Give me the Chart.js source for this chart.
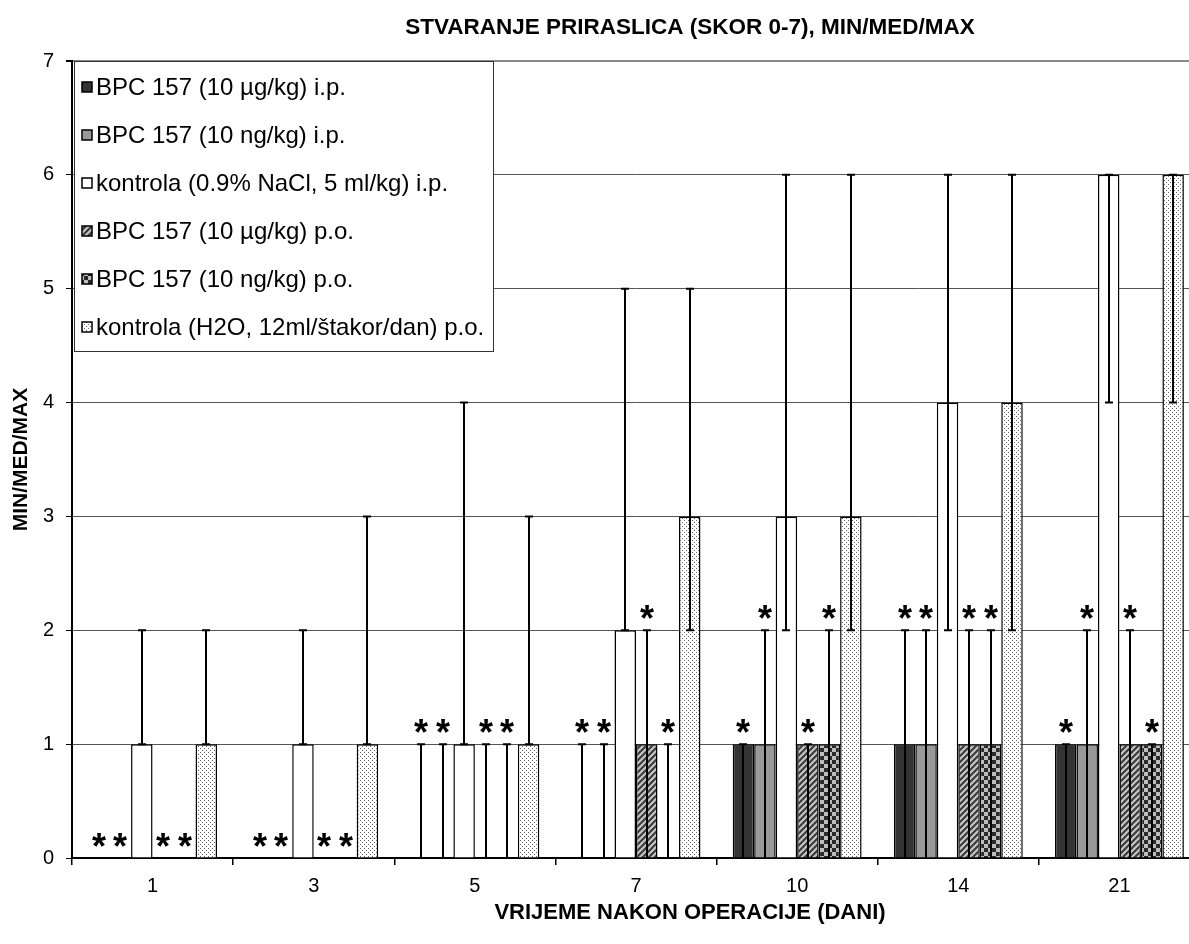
<!DOCTYPE html>
<html>
<head>
<meta charset="utf-8">
<title>Stvaranje priraslica</title>
<script src="https://cdn.jsdelivr.net/npm/chart.js@4"></script>
<style>
  html, body { margin: 0; padding: 0; background: #fff; overflow: hidden; }
  #wrap { width: 1203px; height: 944px; }
</style>
</head>
<body>
<div id="wrap"><canvas id="chart" width="1203" height="944"></canvas></div>
<script>
// dani nakon operacije
const days = ["1", "3", "5", "7", "10", "14", "21"];

const seriesLabels = [
  "BPC 157 (10 µg/kg) i.p.",
  "BPC 157 (10 ng/kg) i.p.",
  "kontrola (0.9% NaCl, 5 ml/kg) i.p.",
  "BPC 157 (10 µg/kg) p.o.",
  "BPC 157 (10 ng/kg) p.o.",
  "kontrola (H2O, 12ml/štakor/dan) p.o.",
];

// medijan / min / max po skupini
const medUgIp = [0, 0, 0, 0, 1, 1, 1];
const minUgIp = [0, 0, 0, 0, 0, 0, 0];
const maxUgIp = [0, 0, 1, 1, 1, 2, 1];

const medNgIp = [0, 0, 0, 0, 1, 1, 1];
const minNgIp = [0, 0, 0, 0, 0, 0, 0];
const maxNgIp = [0, 0, 1, 1, 2, 2, 2];

const medCtrlIp = [1, 1, 1, 2, 3, 4, 6];
const minCtrlIp = [1, 1, 1, 2, 2, 2, 4];
const maxCtrlIp = [2, 2, 4, 5, 6, 6, 6];

const medUgPo = [0, 0, 0, 1, 1, 1, 1];
const minUgPo = [0, 0, 0, 0, 0, 0, 0];
const maxUgPo = [0, 0, 1, 2, 1, 2, 2];

const medNgPo = [0, 0, 0, 0, 1, 1, 1];
const minNgPo = [0, 0, 0, 0, 0, 0, 0];
const maxNgPo = [0, 0, 1, 1, 2, 2, 1];

const medCtrlPo = [1, 1, 1, 3, 3, 4, 6];
const minCtrlPo = [1, 1, 1, 2, 2, 2, 4];
const maxCtrlPo = [2, 3, 3, 5, 6, 6, 6];

// zvjezdice (p < 0.05 prema kontroli)
const starUgIp = [1, 1, 1, 1, 1, 1, 1];
const starNgIp = [1, 1, 1, 1, 1, 1, 1];
const starCtrlIp = [0, 0, 0, 0, 0, 0, 0];
const starUgPo = [1, 1, 1, 1, 1, 1, 1];
const starNgPo = [1, 1, 1, 1, 1, 1, 1];
const starCtrlPo = [0, 0, 0, 0, 0, 0, 0];

const yTicks = [0, 1, 2, 3, 4, 5, 6, 7];

const FONT = '"Liberation Sans", Arial, sans-serif';
Chart.defaults.font.family = FONT;
Chart.defaults.color = "#000";

function makePattern(kind) {
  const c = document.createElement("canvas");
  const g = c.getContext("2d");
  if (kind == "hatch") {
    c.width = 6; c.height = 6;
    g.fillStyle = "#c8c8c8";
    g.fillRect(0, 0, 6, 6);
    g.strokeStyle = "#3c3c3c";
    g.lineWidth = 2.2;
    g.beginPath();
    g.moveTo(-1, 7); g.lineTo(7, -1);
    g.moveTo(-4, 4); g.lineTo(4, -4);
    g.moveTo(2, 10); g.lineTo(10, 2);
    g.stroke();
  } else if (kind == "checker") {
    c.width = 8; c.height = 8;
    g.fillStyle = "#bdbdbd";
    g.fillRect(0, 0, 8, 8);
    g.fillStyle = "#2a2a2a";
    g.fillRect(0, 0, 4, 4);
    g.fillRect(4, 4, 4, 4);
  } else {
    c.width = 4; c.height = 4;
    g.fillStyle = "#fff";
    g.fillRect(0, 0, 4, 4);
    g.fillStyle = "#666";
    g.fillRect(0, 0, 1, 1);
    g.fillRect(2, 2, 1, 1);
  }
  return g.createPattern(c, "repeat");
}

const fills = [
  "#333333",
  "#999999",
  "#ffffff",
  makePattern("hatch"),
  makePattern("checker"),
  makePattern("stipple"),
];
const medians = [medUgIp, medNgIp, medCtrlIp, medUgPo, medNgPo, medCtrlPo];
const mins = [minUgIp, minNgIp, minCtrlIp, minUgPo, minNgPo, minCtrlPo];
const maxs = [maxUgIp, maxNgIp, maxCtrlIp, maxUgPo, maxNgPo, maxCtrlPo];
const stars = [starUgIp, starNgIp, starCtrlIp, starUgPo, starNgPo, starCtrlPo];

const datasets = seriesLabels.map((lbl, i) => ({
  label: lbl,
  data: medians[i],
  backgroundColor: fills[i],
  borderColor: "#000",
  borderWidth: 1.5,
  categoryPercentage: 0.8,
  barPercentage: 1.0,
}));

// min-max linije, zvjezdice, legenda i naslovi
const extras = {
  id: "extras",
  afterDatasetsDraw(chart) {
    const ctx = chart.ctx;
    const y = chart.scales.y;
    ctx.save();
    ctx.strokeStyle = "#000";
    ctx.lineWidth = 2;
    chart.data.datasets.forEach((ds, i) => {
      const meta = chart.getDatasetMeta(i);
      meta.data.forEach((bar, j) => {
        const x = Math.round(bar.x);
        const lo = mins[i][j], hi = maxs[i][j];
        if (hi > lo) {
          const yLo = y.getPixelForValue(lo);
          const yHi = y.getPixelForValue(hi);
          ctx.beginPath();
          ctx.moveTo(x, yLo); ctx.lineTo(x, yHi);
          ctx.moveTo(x - 4, yHi); ctx.lineTo(x + 4, yHi);
          if (lo > 0) { ctx.moveTo(x - 4, yLo); ctx.lineTo(x + 4, yLo); }
          ctx.stroke();
        }
        if (stars[i][j]) {
          ctx.fillStyle = "#000";
          ctx.font = "bold 36px " + FONT;
          ctx.textAlign = "center";
          ctx.textBaseline = "alphabetic";
          ctx.fillText("*", x, y.getPixelForValue(hi) + 1);
        }
      });
    });
    ctx.restore();
  },
  afterDraw(chart) {
    const ctx = chart.ctx;
    ctx.save();
    // legenda
    ctx.fillStyle = "#fff";
    ctx.fillRect(74, 61, 419, 290);
    ctx.strokeStyle = "#333";
    ctx.lineWidth = 1;
    ctx.strokeRect(74.5, 61.5, 419, 290);
    ctx.font = "24px " + FONT;
    ctx.textAlign = "left";
    ctx.textBaseline = "middle";
    seriesLabels.forEach((lbl, i) => {
      const ry = 87 + i * 48;
      ctx.fillStyle = fills[i];
      ctx.fillRect(82, ry - 5, 10, 10);
      ctx.strokeStyle = "#000";
      ctx.lineWidth = 1.5;
      ctx.strokeRect(82, ry - 5, 10, 10);
      ctx.fillStyle = "#000";
      ctx.fillText(lbl, 96, ry + 1);
    });
    // naslovi
    ctx.font = "bold 22.5px " + FONT;
    ctx.textAlign = "center";
    ctx.fillText("STVARANJE PRIRASLICA (SKOR 0-7), MIN/MED/MAX", 690, 28);
    ctx.font = "bold 22px " + FONT;
    ctx.fillText("VRIJEME NAKON OPERACIJE (DANI)", 690, 913);
    ctx.restore();
  },
};

new Chart(document.getElementById("chart"), {
  type: "bar",
  data: { labels: days, datasets: datasets },
  options: {
    responsive: false,
    animation: false,
    devicePixelRatio: 1,
    layout: { padding: { top: 61, right: 3, left: 0, bottom: 0 } },
    plugins: {
      legend: { display: false },
      tooltip: { enabled: false },
    },
    scales: {
      x: {
        offset: true,
        grid: { offset: true, drawOnChartArea: false, tickLength: 7, color: "#000", lineWidth: 1.5 },
        border: { color: "#000", width: 2 },
        ticks: { color: "#000", font: { size: 20 }, padding: 9, maxRotation: 0 },
        afterFit: (s) => { s.height = 86; },
      },
      y: {
        min: yTicks[0],
        max: yTicks[yTicks.length - 1],
        afterBuildTicks: (s) => { s.ticks = yTicks.map((v) => ({ value: v })); },
        ticks: { color: "#000", font: { size: 20 }, padding: 12 },
        grid: {
          color: (c) => (c.tick && c.tick.value == 7 ? "#888" : "#555"),
          lineWidth: (c) => (c.tick && c.tick.value == 7 ? 2 : 1),
          tickLength: 6,
          tickColor: "#000",
        },
        border: { color: "#000", width: 2 },
        title: {
          display: true,
          text: "MIN/MED/MAX",
          color: "#000",
          font: { size: 21, weight: "bold" },
          padding: { top: 9, bottom: 0 },
        },
        afterFit: (s) => { s.width = 72; },
      },
    },
  },
  plugins: [extras],
});
</script>
</body>
</html>
